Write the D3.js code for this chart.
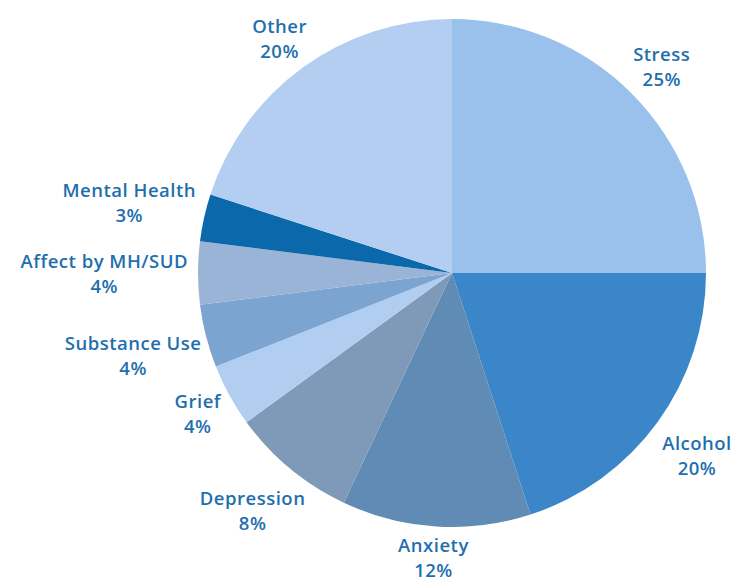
<!DOCTYPE html>
<html><head><meta charset="utf-8">
<script src="https://cdn.jsdelivr.net/npm/d3@7"></script>
<style>body{margin:0;background:#fff;} svg{display:block;}</style>
</head><body>
<svg id="chart" width="739" height="583"></svg>
<script>
const categories = ["Stress","Alcohol","Anxiety","Depression","Grief","Substance Use","Affect by MH/SUD","Mental Health","Other"];
const values = [25,20,12,8,4,4,4,3,20];
const colors = ["#99C1EB","#3A86C8","#5F8BB4","#7F9AB8","#B1CDF0","#7BA4D1","#9AB4D7","#0A68AB","#B3CEF1"];
const labelGap = [14,20,6,20,12,10,10,12,12];
const labelTurn = [0,1.5,0,-2,0,-2,0,1.5,0];

const W=739,H=583, cx=452, cy=273, R=254;
const svg=d3.select("#chart");
const g=svg.append("g").attr("transform",`translate(${cx},${cy})`);
const data=categories.map((c,i)=>({cat:c,val:values[i],i}));
const pie=d3.pie().value(d=>d.val).sort(null);
const arc=d3.arc().innerRadius(0).outerRadius(R);
const arcs=pie(data);
g.selectAll("path").data(arcs).join("path")
  .attr("d",arc).attr("fill",d=>colors[d.data.i]);

const total=d3.sum(values);
const lh=25;
arcs.forEach(a=>{
  const t=g.append("text").attr("text-anchor","middle")
    .style("font-family","'Open Sans', sans-serif").style("font-weight","600")
    .style("font-size","18.5px").style("letter-spacing","0.5px").attr("fill","#1F6FAE");
  t.append("tspan").attr("x",0).attr("y",0).text(a.data.cat);
  t.append("tspan").attr("x",0).attr("y",lh).text(Math.round(a.data.val/total*100)+"%");
  const bb=t.node().getBBox();
  const th=(a.startAngle+a.endAngle)/2 + labelTurn[a.data.i]*Math.PI/180;
  const s=Math.sin(th), c=-Math.cos(th);
  const r=R+labelGap[a.data.i];
  const px=s*r + s*bb.width/2, py=c*r + c*bb.height/2;
  const dx=px-(bb.x+bb.width/2), dy=py-(bb.y+bb.height/2);
  t.attr("transform",`translate(${dx},${dy})`);
});
</script>
</body></html>
